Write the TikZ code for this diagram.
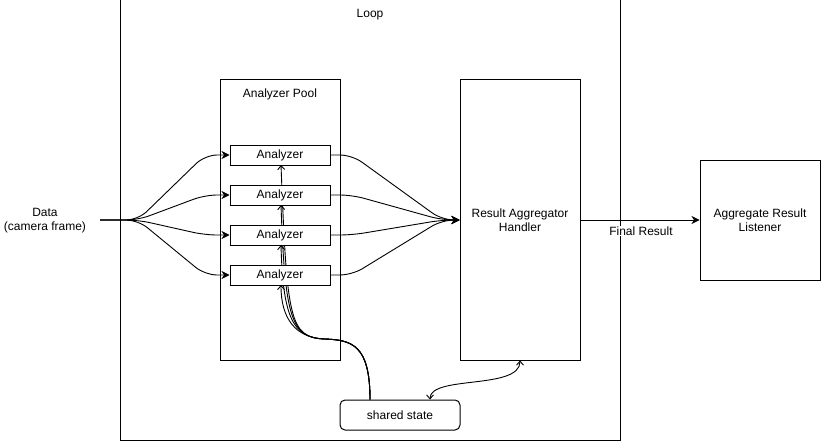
\documentclass[tikz,border=0pt]{standalone}
\usepackage{fontspec}
\setmainfont{Liberation Sans}
\usetikzlibrary{arrows.meta}
\begin{document}
\begin{tikzpicture}[x=1pt,y=-1pt,
  every node/.style={font=\fontsize{12}{14}\selectfont, inner sep=0pt},
  box/.style={draw, line width=1pt, fill=white, anchor=center},
  lbl/.style={align=center},
  conn/.style={line width=0.9pt},
  classicarrow/.style={-{Stealth[length=8pt,width=8pt,inset=2.5pt]}},
  openarrow/.style={-{Straight Barb[length=4pt,width=7pt]}},
  openboth/.style={{Straight Barb[length=4pt,width=7pt]}-{Straight Barb[length=4pt,width=7pt]}}
]
\useasboundingbox (0,0) rectangle (821,441);
% containers
\node[box, minimum width=500pt, minimum height=440pt] (loop) at (370,220) {};
\node (looplbl) at (370,15) {Loop};
\node[box, minimum width=120pt, minimum height=280pt] (pool) at (280,220) {};
\node (poollbl) at (280,94) {Analyzer Pool};
\node[box, lbl, minimum width=120pt, minimum height=280pt] (agg) at (520,220) {Result Aggregator\\Handler};
\node[box, lbl, minimum width=120pt, minimum height=120pt] (lis) at (760,220) {Aggregate Result\\Listener};
\node[box, rounded corners=5pt, minimum width=120pt, minimum height=30pt] (ss) at (400,415) {shared state};
\node[lbl] (data) at (45,220.5) {Data\\(camera frame)};
\coordinate (din) at (100,220);

% shared state -> analyzers (drawn behind analyzer boxes)
\foreach \k/\y/\o in {1/165/3,2/205/2,3/245/1,4/285/0}{
  \draw[conn, openarrow] ([xshift=-30pt]ss.north) .. controls (370,345) and (352,340) .. (325,339)
    .. controls (295-2*\o,338) and (281+2*\o,318) .. (281,\y);
}
% shared state <-> aggregator
\draw[conn, openboth] ([xshift=30pt]ss.north) .. controls (430,375) and (520,390) .. (agg.south);

% analyzers
\foreach \k/\y in {1/155,2/195,3/235,4/275}{
  \node[box, minimum width=100pt, minimum height=20pt] (a\k) at (280,\y) {Analyzer};
}

% data fan-out
\foreach \k/\y in {1/155,2/195,3/235,4/275}{
  \draw[conn, classicarrow, rounded corners=12pt] (din) -- (138,220) -- (205,\y) -- (a\k.west);
  \draw[conn, classicarrow, rounded corners=12pt] (a\k.east) -- (352,\y) -- (442,220) -- (agg.west);
}

% final result
\draw[conn, classicarrow] (agg.east) -- node[pos=0.508, yshift=-11pt, fill=white, inner sep=1pt] (frl) {Final Result} (lis.west);
\end{tikzpicture}
\end{document}
